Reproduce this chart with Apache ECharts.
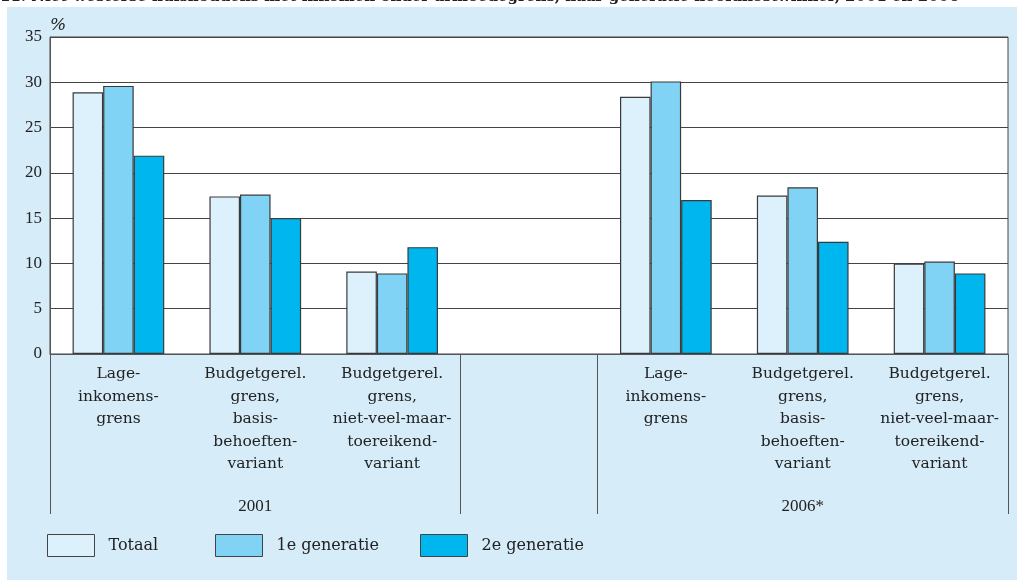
<!DOCTYPE html>
<html><head><meta charset="utf-8">
<script src="https://cdn.jsdelivr.net/npm/echarts@6/dist/echarts.min.js"></script>
<style>
html,body{margin:0;padding:0;background:#fff;}
#wrap{position:relative;width:1021px;height:580px;overflow:hidden;}
#panel{position:absolute;left:7px;top:7px;width:1010px;height:573px;background:#D6EDF9;}
#c{position:absolute;left:0;top:0;width:1021px;height:580px;}
</style>
</head><body>
<div id="wrap"><div id="panel"></div><div id="c"></div></div>
<script>
const titleText = '11. Niet-westerse huishoudens met inkomen onder armoedegrens, naar generatie hoofdkostwinner, 2001 en 2006';
const categories = [
  'Lage-\ninkomens-\ngrens',
  'Budgetgerel.\ngrens,\nbasis-\nbehoeften-\nvariant',
  'Budgetgerel.\ngrens,\nniet-veel-maar-\ntoereikend-\nvariant',
  '',
  'Lage-\ninkomens-\ngrens',
  'Budgetgerel.\ngrens,\nbasis-\nbehoeften-\nvariant',
  'Budgetgerel.\ngrens,\nniet-veel-maar-\ntoereikend-\nvariant'
];
const yearLabels = ['', '2001', '', '', '', '2006*', ''];
const seriesNames = ['Totaal', '1e generatie', '2e generatie'];
const totaal = [28.9, 17.4, 9.1, null, 28.4, 17.5, 10.0];
const gen1   = [29.6, 17.6, 8.9, null, 30.1, 18.4, 10.2];
const gen2   = [21.9, 15.0, 11.8, null, 17.0, 12.4, 8.9];
const yMin = 0, yMax = 35, yStep = 5;
const unitLabel = '%';

const colors = ['#DDF1FC', '#80D3F5', '#00B6EE'];
const values = [totaal, gen1, gen2];
const legendLeft = [47, 215, 420];
const wordFont = 'DejaVu Serif';
const numFont = 'Liberation Serif';

const chart = echarts.init(document.getElementById('c'), null, {renderer: 'canvas'});
chart.setOption({
  animation: false,
  title: {
    text: titleText, left: 0, top: -10, padding: 0,
    textStyle: {fontFamily: wordFont, fontSize: 15, fontWeight: 'bold', color: '#222'}
  },
  grid: {
    left: 50, right: 13, top: 37, bottom: 226,
    show: true, backgroundColor: '#ffffff', borderColor: '#444', borderWidth: 1
  },
  legend: seriesNames.map((n, i) => ({
    data: [n], left: legendLeft[i], top: 534, orient: 'horizontal', padding: 0,
    icon: 'rect', itemWidth: 47, itemHeight: 22, selectedMode: false,
    itemStyle: {borderColor: '#444', borderWidth: 1},
    textStyle: {fontFamily: wordFont, fontSize: 16, color: '#222', padding: [8, 0, 0, 9]}
  })),
  xAxis: [{
    type: 'category', data: categories, position: 'bottom',
    axisLine: {show: true, lineStyle: {color: '#555', width: 1}},
    axisTick: {show: false},
    axisLabel: {interval: 0, fontFamily: wordFont, fontSize: 15.5, lineHeight: 22.5, color: '#222', margin: 9}
  }, {
    type: 'category', data: yearLabels, position: 'bottom', offset: 160,
    axisLine: {show: false},
    axisTick: {show: true, inside: true, length: 160,
      interval: (i) => i === 0 || i === 3 || i === 4,
      lineStyle: {color: '#555', width: 1}},
    axisLabel: {interval: 0, inside: true, margin: -1, fontFamily: numFont, fontSize: 17, color: '#222'},
    splitLine: {show: false}
  }],
  yAxis: {
    type: 'value', min: yMin, max: yMax, interval: yStep,
    name: unitLabel, nameLocation: 'end', nameGap: 3,
    nameTextStyle: {fontFamily: wordFont, fontStyle: 'italic', fontSize: 17, color: '#222', align: 'left', padding: [0, 0, 0, 0]},
    axisLine: {show: true, lineStyle: {color: '#555', width: 1}},
    axisTick: {show: false},
    axisLabel: {fontFamily: numFont, fontSize: 17, color: '#222', margin: 8},
    splitLine: {show: true, lineStyle: {color: '#444', width: 1}}
  },
  series: seriesNames.map((n, i) => ({
    name: n, type: 'bar', xAxisIndex: 0, data: values[i],
    barGap: '0%', barCategoryGap: '33%',
    itemStyle: {color: colors[i], borderColor: '#3a3a3a', borderWidth: 1.2}
  }))
});
</script>
</body></html>
